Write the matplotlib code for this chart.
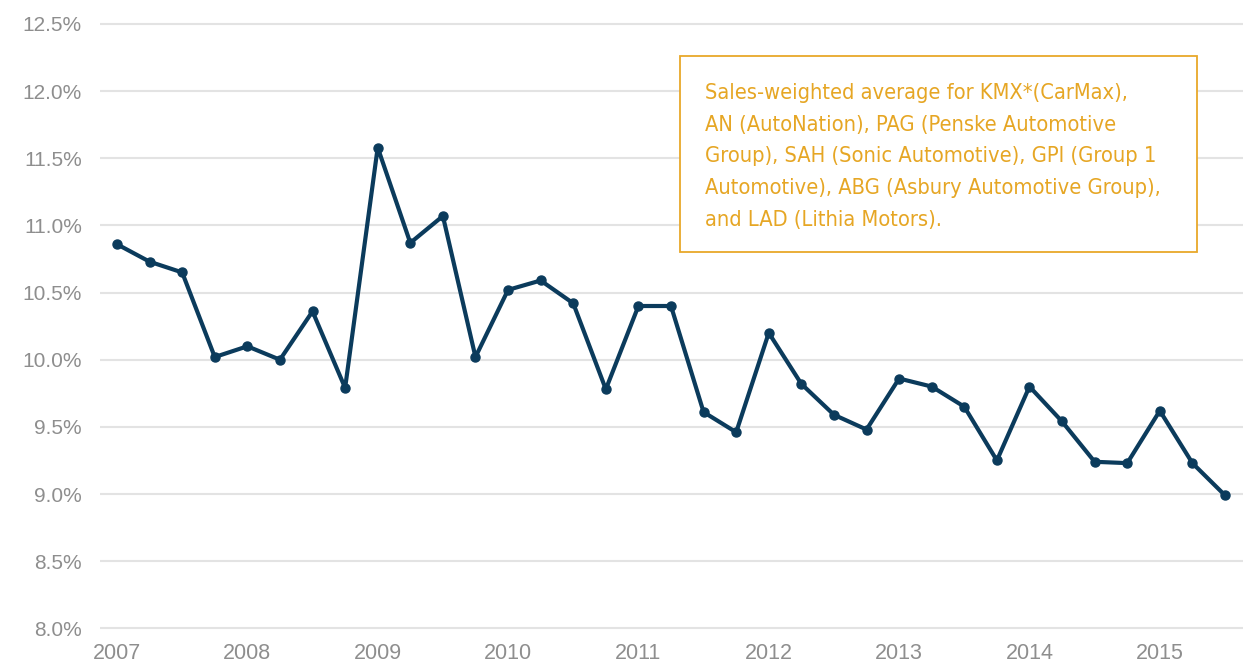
import matplotlib
matplotlib.use("Agg")
import matplotlib.pyplot as plt
from matplotlib.patches import Rectangle

# quarterly series, 2007 Q1 .. 2015 Q3
start_year = 2007
rate = [10.86, 10.73, 10.65, 10.02,
        10.10, 10.00, 10.36, 9.79,
        11.58, 10.87, 11.07, 10.02,
        10.52, 10.59, 10.42, 9.78,
        10.40, 10.40, 9.61, 9.46,
        10.20, 9.82, 9.59, 9.48,
        9.86, 9.80, 9.65, 9.25,
        9.80, 9.54, 9.24, 9.23,
        9.62, 9.23, 8.99]
years = list(range(2007, 2016))
yticks = [8.0, 8.5, 9.0, 9.5, 10.0, 10.5, 11.0, 11.5, 12.0, 12.5]
note = ("Sales-weighted average for KMX*(CarMax),\n"
        "AN (AutoNation), PAG (Penske Automotive\n"
        "Group), SAH (Sonic Automotive), GPI (Group 1\n"
        "Automotive), ABG (Asbury Automotive Group),\n"
        "and LAD (Lithia Motors).")

xs = [start_year + i / 4 for i in range(len(rate))]

W, H = 1243, 666
fig = plt.figure(figsize=(W / 100, H / 100), dpi=100)
ax = fig.add_axes([100 / W, 31 / H, 1143 / W, 635 / H])

ax.plot(xs, rate, color="#0b3b5c", lw=3, marker="o", ms=6.5, zorder=3,
        solid_joinstyle="round")

ax.set_xlim(2007 - 17 / 130.35, 2015.5 + 18 / 130.35)
ax.set_ylim(8.0 - 6.7 / 134.3, 12.5 + 24 / 134.3)

ax.set_yticks(yticks)
ax.set_yticklabels(["%.1f%%" % v for v in yticks])
ax.set_xticks(years)
ax.set_xticklabels([str(y) for y in years])

ax.grid(axis="y", color="#e3e3e3", lw=1.5)
ax.set_axisbelow(True)
for s in ax.spines.values():
    s.set_visible(False)
ax.tick_params(axis="y", length=0, pad=13, labelsize=15, labelcolor="#8e8e8e")
ax.tick_params(axis="x", length=0, pad=6, labelsize=15.5, labelcolor="#8e8e8e")
for lab in ax.get_xticklabels() + ax.get_yticklabels():
    lab.set_fontfamily("Liberation Sans")

# annotation box
fig.patches.append(Rectangle((680 / W, 1 - 252 / H), 517 / W, 196 / H,
                             transform=fig.transFigure, fill=True,
                             facecolor="white", edgecolor="#e8a82a", lw=1.3,
                             zorder=5))
fig.text(705 / W, 1 - 83 / H, note, color="#e6a624", fontsize=15.7,
         family="DejaVu Sans", fontstretch="condensed", va="top",
         ha="left", linespacing=1.73, zorder=6)

fig.savefig("out.png", dpi=100)
